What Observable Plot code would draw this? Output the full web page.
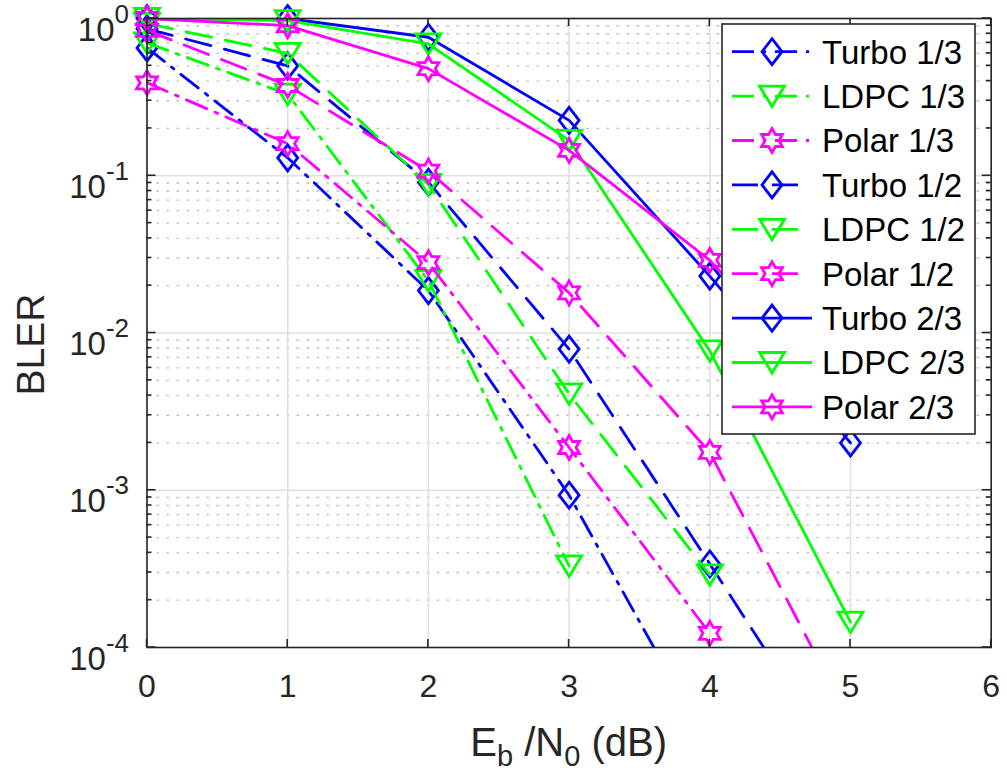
<!DOCTYPE html>
<html><head><meta charset="utf-8">
<script src="https://cdn.jsdelivr.net/npm/d3@7"></script>
<script src="https://cdn.jsdelivr.net/npm/@observablehq/plot@0.6"></script>
<style>
html,body{margin:0;padding:0;background:#fff;}
#chart{position:relative;width:1007px;height:780px;overflow:hidden;}
</style></head><body><div id="chart"></div>
<script>
// ---- data ----
const ebn0 = [0, 1, 2, 3, 4, 5];
const turbo13 = [0.65, 0.13, 0.0186, 9.3e-4, 2.3e-5];
const ldpc13  = [0.70, 0.33, 0.0215, 3.3e-4];
const polar13 = [0.39, 0.16, 0.028, 1.87e-3, 1.23e-4];
const turbo12 = [0.86, 0.50, 0.091, 7.9e-3, 3.4e-4, 1.4e-5];
const ldpc12  = [0.93, 0.60, 0.088, 4.1e-3, 2.9e-4];
const polar12 = [0.84, 0.375, 0.107, 0.018, 1.74e-3, 3.4e-5];
const turbo23 = [1.0, 1.0, 0.76, 0.225, 0.023, 2.0e-3];
const ldpc23  = [1.0, 0.97, 0.69, 0.168, 7.7e-3, 1.45e-4];
const polar23 = [1.0, 0.9, 0.48, 0.145, 0.029, 3.0e-3];

const seriesNames = ["Turbo 1/3","LDPC 1/3","Polar 1/3","Turbo 1/2","LDPC 1/2","Polar 1/2","Turbo 2/3","LDPC 2/3","Polar 2/3"];
const seriesValues = [turbo13, ldpc13, polar13, turbo12, ldpc12, polar12, turbo23, ldpc23, polar23];
const seriesCode = ["Turbo","LDPC","Polar","Turbo","LDPC","Polar","Turbo","LDPC","Polar"];
const seriesRate = ["1/3","1/3","1/3","1/2","1/2","1/2","2/3","2/3","2/3"];

const xTicks = [0, 1, 2, 3, 4, 5, 6];
const yDecades = [1e-4, 1e-3, 1e-2, 1e-1, 1];
const yMinor = [];
for (let e = -4; e < 0; e++) for (let m = 2; m <= 9; m++) yMinor.push(m * Math.pow(10, e));

// ---- styles ----
const codeColor = {Turbo: "#0000ff", LDPC: "#00ff00", Polar: "#ff00ff"};
const rateDash = {"1/3": "22,9,3,9", "1/2": "26,14", "2/3": null};
const LW = 2.8;
const symDiamond = {draw(c){ c.moveTo(0,-13); c.lineTo(10,0); c.lineTo(0,13); c.lineTo(-10,0); c.closePath(); }};
const symTri = {draw(c){ c.moveTo(-12.5,-10); c.lineTo(12.5,-10); c.lineTo(0,10.5); c.closePath(); }};
const symHex = {draw(c){
  const R = 12, r = R / Math.sqrt(3);
  for (let k = 0; k < 12; k++) {
    const a = k * Math.PI / 6, rr = (k % 2 === 0) ? R : r;
    const px = rr * Math.sin(a), py = -rr * Math.cos(a);
    if (k === 0) c.moveTo(px, py); else c.lineTo(px, py);
  }
  c.closePath();
}};
const codeSymbol = {Turbo: symDiamond, LDPC: symTri, Polar: symHex};

// ---- table ----
const rows = [];
seriesValues.forEach((vals, i) => vals.forEach((v, j) => rows.push({series: seriesNames[i], idx: i, x: ebn0[j], y: v})));

const seriesMarks = [];
seriesNames.forEach((name, i) => {
  const d = rows.filter(r => r.idx === i);
  const col = codeColor[seriesCode[i]];
  seriesMarks.push(Plot.line(d, {x: "x", y: "y", stroke: col, strokeWidth: LW, strokeDasharray: rateDash[seriesRate[i]] || undefined, clip: true}));
  seriesMarks.push(Plot.dot(d.filter(r => r.y >= 1e-4 && r.y <= 1), {x: "x", y: "y", symbol: codeSymbol[seriesCode[i]], stroke: col, strokeWidth: LW, fill: "none", r: 5}));
});

const FONT = "'Liberation Sans', Arial, Helvetica, sans-serif";
const plot = Plot.plot({
  width: 1007, height: 780,
  marginLeft: 146.5, marginRight: 16.3, marginTop: 18, marginBottom: 133,
  style: {fontFamily: FONT, background: "white", color: "#262626", overflow: "visible"},
  x: {domain: [0, 6]},
  y: {type: "log", domain: [1e-4, 1]},
  marks: [
    Plot.ruleY(yMinor, {stroke: "#bcbcbc", strokeWidth: 1.4, strokeDasharray: "2.5,7.5"}),
    Plot.ruleX(xTicks, {stroke: "#e0e0e0", strokeWidth: 1.6}),
    Plot.ruleY(yDecades, {stroke: "#e0e0e0", strokeWidth: 1.6}),
    ...seriesMarks,
    Plot.frame({stroke: "#262626", strokeWidth: 1.6}),
    Plot.axisX({ticks: xTicks, anchor: "bottom", tickSize: 0, tickPadding: 27, fontSize: 32, tickFormat: d => String(d), label: null}),
    Plot.axisY({ticks: yDecades, anchor: "left", tickSize: 0, tickPadding: 18, fontSize: 33, tickFormat: d => String(Math.round(Math.log10(d))), label: null})
  ]
});
document.getElementById("chart").appendChild(plot);

// ---- post-processing: superscripts, inward ticks, labels, legend ----
const svg = d3.select(plot);
const xs = plot.scale("x"), ys = plot.scale("y");
const L = xs.apply(0), Rr = xs.apply(6), T = ys.apply(1), B = ys.apply(1e-4);

svg.selectAll('g[aria-label="y-axis tick label"] text').each(function() {
  const t = d3.select(this);
  const ex = t.text();
  t.text(null).attr("y", 22);
  t.append("tspan").text("10");
  t.append("tspan").attr("dy", -18).attr("font-size", 26).text(ex);
});

const tg = svg.append("g").attr("stroke", "#262626").attr("stroke-width", 1.6);
xTicks.forEach(v => {
  const x = xs.apply(v);
  tg.append("line").attr("x1", x).attr("x2", x).attr("y1", B).attr("y2", B - 8);
  tg.append("line").attr("x1", x).attr("x2", x).attr("y1", T).attr("y2", T + 8);
});
yDecades.forEach(v => {
  const y = ys.apply(v);
  tg.append("line").attr("x1", L).attr("x2", L + 9).attr("y1", y).attr("y2", y);
  tg.append("line").attr("x1", Rr).attr("x2", Rr - 9).attr("y1", y).attr("y2", y);
});
yMinor.forEach(v => {
  const y = ys.apply(v);
  tg.append("line").attr("x1", L).attr("x2", L + 5).attr("y1", y).attr("y2", y);
  tg.append("line").attr("x1", Rr).attr("x2", Rr - 5).attr("y1", y).attr("y2", y);
});

// axis labels
const xl = svg.append("text").attr("x", (L + Rr) / 2).attr("y", 756).attr("text-anchor", "middle")
  .attr("font-family", FONT).attr("font-size", 40).attr("fill", "#262626");
xl.append("tspan").text("E");
xl.append("tspan").attr("font-size", 29).attr("dy", 10).text("b");
xl.append("tspan").attr("dy", -10).text(" /N");
xl.append("tspan").attr("font-size", 29).attr("dy", 10).text("0");
xl.append("tspan").attr("dy", -10).text(" (dB)");

svg.append("text").attr("transform", `translate(44,${(T + B) / 2 + 12}) rotate(-90)`).attr("text-anchor", "middle")
  .attr("font-family", FONT).attr("font-size", 39).attr("fill", "#262626").text("BLER");

// legend
const lg = svg.append("g").attr("text-anchor", "start");
lg.append("rect").attr("x", 722).attr("y", 24).attr("width", 253).attr("height", 410)
  .attr("fill", "white").attr("stroke", "#262626").attr("stroke-width", 1.6);
seriesNames.forEach((name, i) => {
  const cy = 51.7 + i * 44.4;
  const col = codeColor[seriesCode[i]];
  const dash = rateDash[seriesRate[i]];
  const x2 = seriesRate[i] === "1/3" ? 810 : (dash ? 804 : 812);
  const ln = lg.append("line").attr("x1", 732).attr("x2", x2).attr("y1", cy).attr("y2", cy)
    .attr("stroke", col).attr("stroke-width", LW);
  if (dash) ln.attr("stroke-dasharray", dash);
  const p = d3.path(); codeSymbol[seriesCode[i]].draw(p);
  lg.append("path").attr("d", p.toString()).attr("transform", `translate(772,${cy})`)
    .attr("fill", "none").attr("stroke", col).attr("stroke-width", LW);
  lg.append("text").attr("x", 822).attr("y", cy).attr("dy", "0.36em").attr("font-family", FONT)
    .attr("font-size", 33).attr("fill", "#000").attr("text-anchor", "start").text(name);
});
</script></body></html>
